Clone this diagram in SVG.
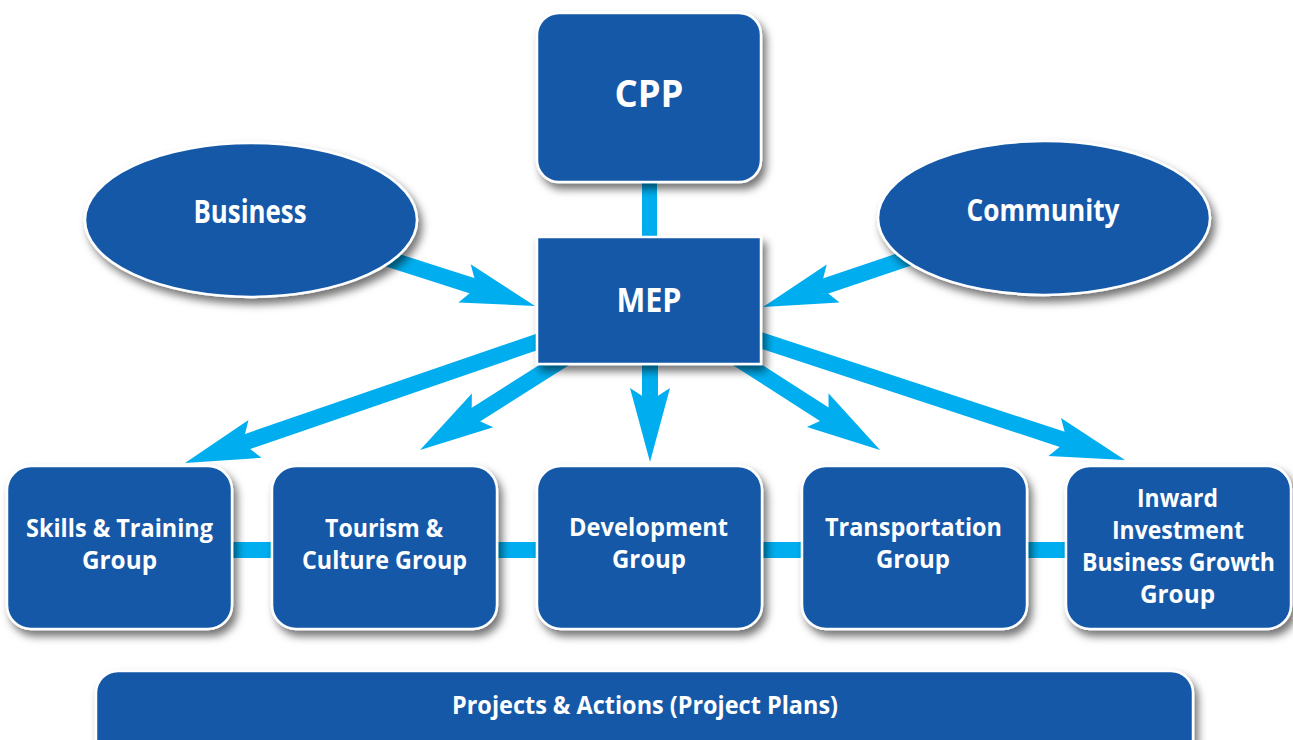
<svg xmlns="http://www.w3.org/2000/svg" width="1293" height="740" viewBox="0 0 1293 740">
<defs>
<style>
.node{fill:#1359a8;stroke:#ffffff;stroke-width:2.5;filter:url(#sh)}
.t{font-family:"Open Sans","Liberation Sans",sans-serif;font-weight:bold;fill:#ffffff;text-anchor:middle}
.arr{stroke:#00aeef;stroke-width:16;fill:none;marker-end:url(#head)}
.bar{fill:#00aeef}
</style>
<filter id="sh" x="-20%" y="-20%" width="140%" height="150%">
<feDropShadow dx="4" dy="6" stdDeviation="4" flood-color="#000" flood-opacity="0.55"/>
</filter>
<marker id="head" markerUnits="userSpaceOnUse" viewBox="0 -22 80 44" markerWidth="80" markerHeight="44" refX="24" refY="0" orient="auto" overflow="visible">
<path d="M0,-20 L74,0 L0,20 L13,0 Z" fill="#00aeef"/>
</marker>
</defs>
<rect width="1293" height="740" fill="#ffffff"/>
<g id="connectors">
<rect class="bar" x="642" y="176" width="15" height="66"/>
<rect class="bar" x="228" y="542" width="48" height="16"/>
<rect class="bar" x="493" y="542" width="48" height="16"/>
<rect class="bar" x="758" y="542" width="48" height="16"/>
<rect class="bar" x="1023" y="542" width="48" height="16"/>
<line class="arr" x1="345" y1="245" x2="487.4" y2="290.7"/>
<line class="arr" x1="953" y1="243" x2="810.4" y2="291.1"/>
<line class="arr" x1="560" y1="334" x2="232.3" y2="446.75"/>
<line class="arr" x1="589" y1="343" x2="462.3" y2="423.3"/>
<line class="arr" x1="650" y1="340" x2="650" y2="412"/>
<line class="arr" x1="711.6" y1="342" x2="837.9" y2="423"/>
<line class="arr" x1="745" y1="335" x2="1077.5" y2="444.4"/>
</g>
<g id="cpp">
<rect class="node" x="537" y="13" width="224" height="169" rx="22"/>
<text class="t" x="649" y="107" font-size="37" textLength="69" lengthAdjust="spacingAndGlyphs">CPP</text>
</g>
<g id="business">
<ellipse class="node" cx="251" cy="220" rx="166" ry="77"/>
<text class="t" x="250" y="223" font-size="32" textLength="113" lengthAdjust="spacingAndGlyphs">Business</text>
</g>
<g id="community">
<ellipse class="node" cx="1044" cy="218" rx="166" ry="77"/>
<text class="t" x="1043" y="221" font-size="31" textLength="153" lengthAdjust="spacingAndGlyphs">Community</text>
</g>
<g id="mep">
<rect class="node" x="537" y="237" width="224" height="127"/>
<text class="t" x="649" y="312" font-size="34" textLength="65" lengthAdjust="spacingAndGlyphs">MEP</text>
</g>
<g id="skills">
<rect class="node" x="7" y="466" width="225" height="163" rx="24"/>
<text class="t" x="119.5" y="537" font-size="25" textLength="187" lengthAdjust="spacingAndGlyphs">Skills &amp; Training</text>
<text class="t" x="119.5" y="569" font-size="25" textLength="75" lengthAdjust="spacingAndGlyphs">Group</text>
</g>
<g id="tourism">
<rect class="node" x="272" y="466" width="225" height="163" rx="24"/>
<text class="t" x="384" y="537" font-size="25" textLength="118" lengthAdjust="spacingAndGlyphs">Tourism &amp;</text>
<text class="t" x="384.5" y="569" font-size="25" textLength="165" lengthAdjust="spacingAndGlyphs">Culture Group</text>
</g>
<g id="development">
<rect class="node" x="537" y="466" width="225" height="163" rx="24"/>
<text class="t" x="648.5" y="536" font-size="25" textLength="159" lengthAdjust="spacingAndGlyphs">Development</text>
<text class="t" x="649" y="568" font-size="25" textLength="74" lengthAdjust="spacingAndGlyphs">Group</text>
</g>
<g id="transportation">
<rect class="node" x="802" y="466" width="225" height="163" rx="24"/>
<text class="t" x="913.5" y="536" font-size="25" textLength="177" lengthAdjust="spacingAndGlyphs">Transportation</text>
<text class="t" x="913" y="568" font-size="25" textLength="74" lengthAdjust="spacingAndGlyphs">Group</text>
</g>
<g id="inward">
<rect class="node" x="1066" y="466" width="225" height="163" rx="24"/>
<text class="t" x="1177.5" y="507" font-size="25" textLength="81" lengthAdjust="spacingAndGlyphs">Inward</text>
<text class="t" x="1178" y="539" font-size="25" textLength="132" lengthAdjust="spacingAndGlyphs">Investment</text>
<text class="t" x="1178.5" y="571" font-size="25" textLength="193" lengthAdjust="spacingAndGlyphs">Business Growth</text>
<text class="t" x="1177.5" y="603" font-size="25" textLength="75" lengthAdjust="spacingAndGlyphs">Group</text>
</g>
<g id="projects">
<rect class="node" x="96" y="671" width="1097" height="100" rx="22"/>
<text class="t" x="645" y="714" font-size="25" textLength="386" lengthAdjust="spacingAndGlyphs">Projects &amp; Actions (Project Plans)</text>
</g>
</svg>
